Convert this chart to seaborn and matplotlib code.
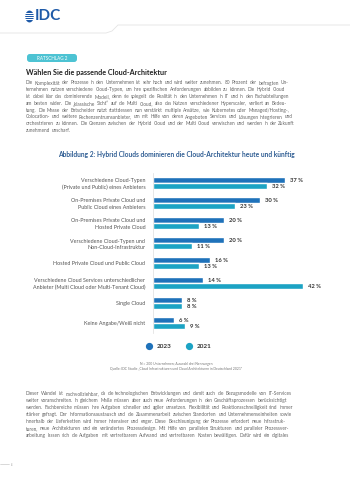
import matplotlib
matplotlib.use("Agg")
import matplotlib.pyplot as plt
from matplotlib.lines import Line2D
from matplotlib.patches import FancyBboxPatch, Circle, Rectangle
from matplotlib.text import Annotation
import seaborn as sns
import pandas as pd

# ---------------- data ----------------
categories = [
    "Verschiedene Cloud-Typen\n(Private und Public) eines Anbieters",
    "On-Premises Private Cloud und\nPublic Cloud eines Anbieters",
    "On-Premises Private Cloud und\nHosted Private Cloud",
    "Verschiedene Cloud-Typen und\nNon-Cloud-Infrastruktur",
    "Hosted Private Cloud und Public Cloud",
    "Verschiedene Cloud Services unterschiedlicher\nAnbieter (Multi Cloud oder Multi-Tenant Cloud)",
    "Single Cloud",
    "Keine Angabe/Weiß nicht",
]
values_2023 = [37, 30, 20, 20, 16, 14, 8, 6]
values_2021 = [32, 23, 13, 11, 13, 42, 8, 9]
years = ["2023", "2021"]
colors = ["#1F72BA", "#1CA3C4"]

chart_title = "Abbildung 2: Hybrid Clouds dominieren die Cloud-Architektur heute und künftig"
heading = "Wählen Sie die passende Cloud-Architektur"
tag = "RATSCHLAG 2"
para1 = [
    "Die Komplexität der Prozesse in den Unternehmen ist sehr hoch und wird weiter zunehmen. 80 Prozent der befragten Un-",
    "ternehmen nutzen verschiedene Cloud-Typen, um ihre spezifischen Anforderungen abbilden zu können. Die Hybrid Cloud",
    "ist dabei klar das dominierende Modell, denn sie spiegelt die Realität in den Unternehmen in IT und in den Fachabteilungen",
    "am besten wider. Die „klassische Sicht“ auf die Multi Cloud, also das Nutzen verschiedener Hyperscaler, verliert an Bedeu-",
    "tung. Die Masse der Entscheider nutzt stattdessen nun verstärkt multiple Ansätze, wie Kubernetes oder Managed/Hosting-,",
    "Colocation- und weitere Rechenzentrumsanbieter, um mit Hilfe von deren Angeboten Services und Lösungen integrieren und",
    "orchestrieren zu können. Die Grenzen zwischen der Hybrid Cloud und der Multi Cloud verwischen und werden in der Zukunft",
    "zunehmend unscharf.",
]
para2 = [
    "Dieser Wandel ist nachvollziehbar, da die technologischen Entwicklungen und damit auch die Bezugsmodelle von IT-Services",
    "weiter voranschreiten. In gleichem Maße müssen aber auch neue Anforderungen in den Geschäftsprozessen berücksichtigt",
    "werden. Fachbereiche müssen ihre Aufgaben schneller und agiler umsetzen. Flexibilität und Reaktionsschnelligkeit sind immer",
    "stärker gefragt. Der Informationsaustausch und die Zusammenarbeit zwischen Standorten und Unternehmenseinheiten sowie",
    "innerhalb der Lieferketten wird immer intensiver und enger. Diese Beschleunigung der Prozesse erfordert neue Infrastruk-",
    "turen, neue Architekturen und ein verändertes Prozessdesign. Mit Hilfe von parallelen Strukturen und paralleler Prozessver-",
    "arbeitung lassen sich die Aufgaben mit vertretbarem Aufwand und vertretbaren Kosten bewältigen. Dafür wird ein digitales",
]
footnote = [
    "N = 200 Unternehmen; Auswahl drei Nennungen",
    "Quelle: IDC Studie „Cloud Infrastrukturen und Cloud Architekturen in Deutschland 2021“",
]

df = pd.DataFrame({
    "cat": categories * 2,
    "val": values_2023 + values_2021,
    "year": [years[0]] * len(categories) + [years[1]] * len(categories),
})

# ---------------- figure ----------------
sns.set_theme(style="white")
plt.rcParams["font.family"] = ["Lato", "DejaVu Sans"]

W, H = 350, 483
fig = plt.figure(figsize=(W / 100, H / 100), dpi=100)
fig.patch.set_facecolor("white")

def fx(x):
    return x / W

def fy(y):
    return 1 - y / H

def word_lines(lines, x0, y0, dy, size, color, space_pt):
    """Each word is its own text, chained to the right edge of the previous word."""
    for i, line in enumerate(lines):
        y = fy(y0 + i * dy)
        last = None
        for w in line.split(" "):
            if last is None:
                last = fig.text(fx(x0), y, w, fontsize=size, color=color,
                                ha="left", va="baseline")
            else:
                last = fig.add_artist(Annotation(
                    w, xy=(1, y), xycoords=(last, "figure fraction"),
                    xytext=(space_pt, 0), textcoords="offset points",
                    fontsize=size, color=color, ha="left", va="baseline"))

# header line
fig.add_artist(Line2D([fx(0), fx(106), fx(112), fx(118), fx(350)],
                      [fy(33), fy(33), fy(31), fy(25), fy(25)],
                      color="#E4E4E4", lw=0.6))
# logo
logo_blue = "#1E5AA8"
fig.add_artist(Circle((fx(29.5), fy(16.5)), 4.3 / W, transform=fig.transFigure,
                      color=logo_blue, lw=0))
for yy in [13.2, 15.4, 17.6, 19.8]:
    fig.add_artist(Rectangle((fx(24.5), fy(yy + 0.35)), 10 / W, 0.7 / H,
                             transform=fig.transFigure, color="white", lw=0))
fig.text(fx(34.5), fy(16.5), "IDC", fontsize=11, fontweight="bold", color=logo_blue,
         va="center", ha="left")

# tag pill
fig.add_artist(FancyBboxPatch((fx(27), fy(62)), 50 / W, 8 / H,
                              boxstyle="round,pad=0,rounding_size=0.008",
                              transform=fig.transFigure, color="#4DC3D3", lw=0,
                              mutation_aspect=W / H))
fig.text(fx(52), fy(58), tag, fontsize=3.3, color="white", ha="center", va="center")

fig.text(fx(26), fy(72), heading, fontsize=5.2, fontweight="bold", color="#222222",
         ha="left", va="center")

body_color = "#666666"
word_lines(para1, 26, 84.5, 6.8, 3.45, body_color, 1.15)
word_lines(para2, 26, 395.2, 7.0, 3.45, body_color, 1.15)

fig.text(fx(176), fy(155), chart_title, fontsize=4.75, fontweight="bold",
         color="#2F5D93", ha="center", va="center")

# ---------------- chart ----------------
ax = fig.add_axes([fx(153), fy(333), 150 / W, 160 / H])
sns.barplot(data=df, y="cat", x="val", hue="year", hue_order=years,
            palette=colors, orient="h", width=0.6, ax=ax, legend=False,
            saturation=1, errorbar=None)
ax.set_xlim(0, 42)
ax.set_ylim(len(categories) - 0.5, -0.5)
ax.set_xlabel("")
ax.set_ylabel("")
ax.set_xticks([])
for s in ["top", "right", "bottom"]:
    ax.spines[s].set_visible(False)
ax.spines["left"].set_color("#DDDDDD")
ax.spines["left"].set_linewidth(0.5)
ax.tick_params(axis="y", length=0, pad=5.5, labelsize=3.9, labelcolor="#555555")
for lbl in ax.get_yticklabels():
    lbl.set_linespacing(1.35)
    lbl.set_horizontalalignment("right")
ax.set_facecolor("none")

for cont in ax.containers:
    ax.bar_label(cont, labels=[f"{int(v)} %" for v in cont.datavalues],
                 padding=3.6, fontsize=4.2, fontweight="bold", color="#333333")

# legend
handles = [Line2D([], [], marker="o", ls="", color=c, markersize=4.2) for c in colors]
fig.legend(handles, years, loc="center", bbox_to_anchor=(fx(177), fy(346)),
           ncol=2, frameon=False, handletextpad=0.3,
           columnspacing=1.6, prop={"weight": "bold", "size": 4.6})
for t in fig.legends[0].get_texts():
    t.set_color("#333333")

for i, line in enumerate(footnote):
    fig.text(fx(176), fy(364.3 + i * 4.4), line, fontsize=2.4, color="#777777",
             ha="center", va="center")

# bottom-left page marker
fig.add_artist(Line2D([fx(0), fx(9)], [fy(464), fy(464)], color="#BBBBBB", lw=0.4))
fig.text(fx(10), fy(465), "4", fontsize=1.8, color="#999999", ha="left", va="center")

fig.savefig("out.png", dpi=100, facecolor="white")
